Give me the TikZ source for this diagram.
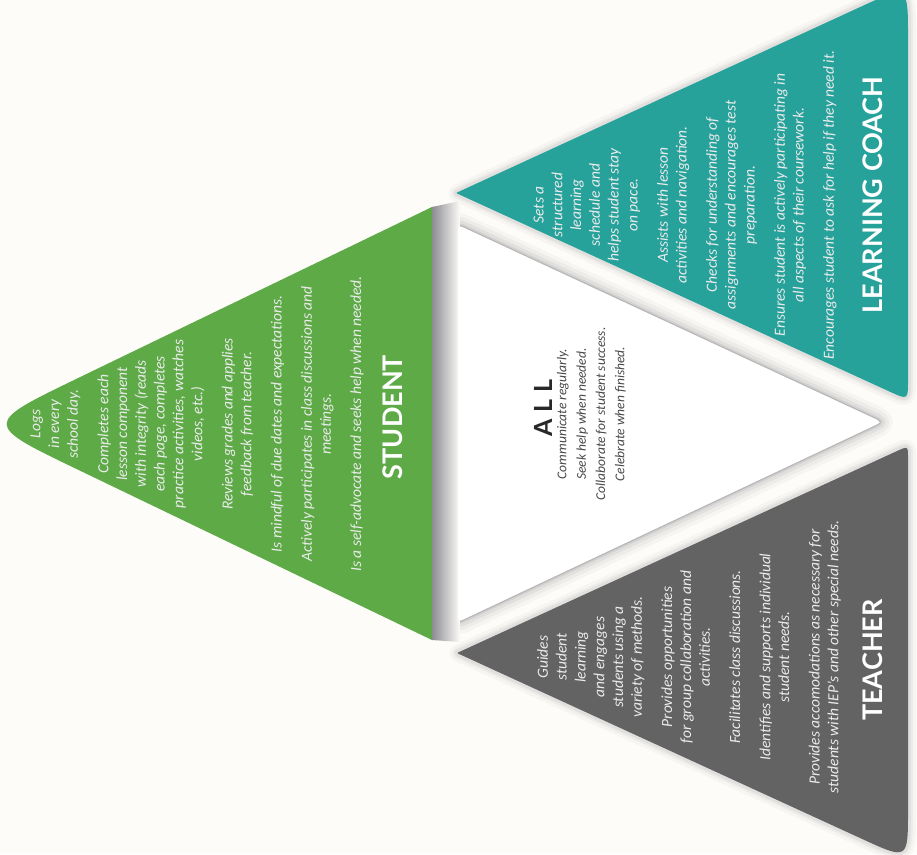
\documentclass[tikz,border=0pt]{standalone}
\usepackage{fontspec}
\setmainfont{Carlito}
\newfontfamily\headfont{Lato}
\usetikzlibrary{calc}
\definecolor{TriGreen}{RGB}{93,170,71}
\definecolor{TriTeal}{RGB}{38,162,155}
\definecolor{TriGray}{RGB}{99,99,99}
\definecolor{TriPaper}{RGB}{253,252,248}
\definecolor{TriInk}{RGB}{40,40,40}
\definecolor{TriShade}{RGB}{120,120,128}
% rounded triangle: three corners, then a radius for each corner
\newcommand\tripath[6]{%
  ($(#1)!#4!(#2)$) -- ($(#2)!#5!(#1)$) .. controls (#2) .. ($(#2)!#5!(#3)$)
  -- ($(#3)!#6!(#2)$) .. controls (#3) .. ($(#3)!#6!(#1)$)
  -- ($(#1)!#4!(#3)$) .. controls (#1) .. ($(#1)!#4!(#2)$) -- cycle}
\tikzset{
  tri/glow/.style={draw=TriShade, line join=round},
  tri/body/.style={
    rotate=90,
    align=center,
    inner sep=0pt,
    text=white!92!black,
    font=\fontsize{15.5}{18.8}\selectfont\itshape
  },
  tri/head/.style={
    rotate=90,
    inner sep=0pt,
    text=white,
    font=\headfont\bfseries\fontsize{27}{30}\selectfont
  },
  tri/allbody/.style={tri/body, text=TriInk!85, font=\fontsize{13.5}{19.3}\selectfont\itshape},
  tri/allhead/.style={tri/head, text=TriInk, font=\headfont\bfseries\fontsize{25}{30}\selectfont}
}
\begin{document}
\begin{tikzpicture}[x=1pt,y=-1pt]
  \useasboundingbox (0,0) rectangle (917,854);
  \fill[TriPaper] (0,0) rectangle (917,854);

  % corners of the four triangles
  \coordinate (sa) at (-17,424);
  \coordinate (st) at (432,207);
  \coordinate (sb) at (432,640);
  \coordinate (ta) at (456,193);
  \coordinate (tt) at (908,-15);
  \coordinate (tb) at (908,400);
  \coordinate (ga) at (457,653);
  \coordinate (gt) at (908,446);
  \coordinate (gb) at (908,860);
  \coordinate (wt) at (458,225);
  \coordinate (wa) at (882,422);
  \coordinate (wb) at (458,622);

  % soft shadows
  \foreach \w/\o in {16/0.05,10/0.07,6/0.1} {
    \draw[tri/glow, line width=\w pt, opacity=\o, shift={(4,4)}] \tripath{ta}{tt}{tb}{3pt}{52pt}{20pt};
    \draw[tri/glow, line width=\w pt, opacity=\o, shift={(4,4)}] \tripath{ga}{gt}{gb}{3pt}{12pt}{50pt};
  }
  \foreach \w/\o in {26/0.05,19/0.07,12/0.1,6/0.14,2.5/0.3}
    \draw[tri/glow, line width=\w pt, opacity=\o] \tripath{wt}{wa}{wb}{8pt}{10pt}{8pt};

  % faces
  \fill[TriGreen] \tripath{sa}{st}{sb}{105pt}{0pt}{0pt};
  \shade[left color=TriShade!85, right color=TriPaper] (st) -- (460,201) -- (460,642) -- (sb) -- cycle;
  \fill[TriTeal] \tripath{ta}{tt}{tb}{3pt}{52pt}{20pt};
  \fill[TriGray] \tripath{ga}{gt}{gb}{3pt}{12pt}{50pt};
  \fill[white] \tripath{wt}{wa}{wb}{8pt}{10pt}{8pt};

  % student
  \node[tri/body] (studentText) at (197,424) {Logs\\ in every\\ school day.\\[11.5pt]
    Completes each\\ lesson component\\ with integrity (reads\\ each page, completes\\ practice activities, watches\\ videos, etc.)\\[11.5pt]
    Reviews grades and applies\\ feedback from teacher.\\[11.5pt]
    Is mindful of due dates and expectations.\\[11.5pt]
    Actively participates in class discussions and\\ meetings.\\[11.5pt]
    Is a self-advocate and seeks help when needed.};
  \node[tri/head] (studentHead) at (393,417) {STUDENT};

  % learning coach
  \node[tri/body] (coachText) at (685,205) {Sets a\\ structured\\ learning\\ schedule and\\ helps student stay\\ on pace.\\[11.5pt]
    Assists with lesson\\ activities and navigation.\\[11.5pt]
    Checks for understanding of\\ assignments and encourages test\\ preparation.\\[11.5pt]
    Ensures student is actively participating in\\ all aspects of their coursework.\\[11.5pt]
    Encourages student to ask for help if they need it.};
  \node[tri/head] (coachHead) at (873,195) {LEARNING COACH};

  % teacher
  \node[tri/body] (teacherText) at (689,657) {Guides\\ student\\ learning\\ and engages\\ students using a\\ variety of methods.\\[11.5pt]
    Provides opportunities\\ for group collaboration and\\ activities.\\[11.5pt]
    Facilitates class discussions.\\[11.5pt]
    Identifies and supports individual\\ student needs.\\[11.5pt]
    Provides accomodations as necessary for\\ students with IEP's and other special needs.};
  \node[tri/head] (teacherHead) at (873,660) {TEACHER};

  % all
  \node[tri/allhead] (allHead) at (543,408) {A\hspace{7pt}L\hspace{7pt}L};
  \node[tri/allbody] (allText) at (591.5,414) {Communicate regularly.\\ Seek help when needed.\\ Collaborate for student success.\\ Celebrate when finished.};
\end{tikzpicture}
\end{document}
